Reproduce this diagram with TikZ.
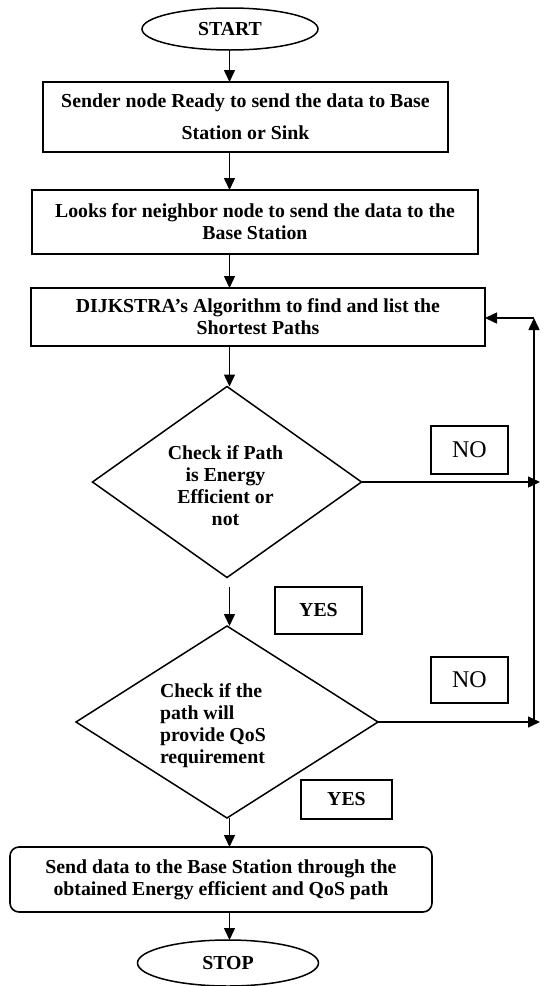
\documentclass[tikz,border=0pt]{standalone}
\usepackage{fontspec}
\setmainfont{Liberation Serif}
\usetikzlibrary{shapes.geometric,arrows.meta,calc}
\begin{document}
\begin{tikzpicture}[x=1pt,y=-1pt,
  every node/.style={inner sep=0pt, outer sep=0pt},
  bf/.style={font=\fontsize{19.8}{22}\selectfont\bfseries},
  procbox/.style={draw, line width=1.6pt, align=center, bf},
  term/.style={draw, ellipse, line width=1.5pt, bf},
  decide/.style={draw, diamond, line width=1.5pt},
  lbl/.style={draw, line width=1.6pt},
  conn/.style={line width=1.5pt, -{Triangle[length=12pt,width=11pt]}},
  plain/.style={line width=1.5pt}
]
\useasboundingbox (0,0) rectangle (544,986);

\node[term, minimum width=176, minimum height=42] (start) at (230,29) {START};
\node[procbox, minimum width=405, minimum height=70] (b1) at (245.5,117)
  {Sender node Ready to send the data to Base\\[10pt]Station or Sink};
\node[procbox, minimum width=446, minimum height=64] (b2) at (255,222)
  {Looks for neighbor node to send the data to the\\Base Station};
\node[procbox, minimum width=454, minimum height=58] (b3) at (258,317)
  {DIJKSTRA’s Algorithm to find and list the\\Shortest Paths};
\node[decide, minimum width=269, minimum height=191] (d1) at (227,482) {};
\node[align=center, bf] (d1t) at (225.5,486)
  {Check if Path\\is Energy\\Efficient or\\not};
\node[decide, minimum width=302, minimum height=192] (d2) at (227,722) {};
\node[align=left, bf, anchor=west] (d2t) at (160,726)
  {Check if the\\path will\\provide QoS\\requirement};
\node[procbox, rounded corners=9pt, minimum width=422, minimum height=65] (b4) at (221,879.5)
  {Send data to the Base Station through the\\obtained Energy efficient and QoS path};
\node[term, minimum width=181, minimum height=46] (stop) at (228,963) {STOP};

\node[lbl, minimum width=77, minimum height=48, font=\fontsize{24}{26}\selectfont] (no1) at (469.5,450) {NO};
\node[lbl, minimum width=77, minimum height=46, font=\fontsize{24}{26}\selectfont] (no2) at (469.5,680) {NO};
\node[lbl, bf, minimum width=87, minimum height=47] (yes1) at (318.5,610.5) {YES};
\node[lbl, bf, minimum width=91, minimum height=39] (yes2) at (346.5,799.5) {YES};

\coordinate (ax) at (229.5,0);
\coordinate (vx) at (534,0);
\coordinate (tx) at (540,0);
\coordinate (vb) at (534,716);
\coordinate (vt) at (534,318);

\draw[conn] (ax |- start.south) -- (ax |- b1.north);
\draw[conn] (ax |- b1.south) -- (ax |- b2.north);
\draw[conn] (ax |- b2.south) -- (ax |- b3.north);
\draw[conn] (ax |- b3.south) -- (ax |- d1.north);
\draw[conn] ($(ax |- d1.south)+(0,9)$) -- (ax |- d2.north);
\draw[conn] (ax |- d2.south) -- (ax |- b4.north);
\draw[conn] (ax |- b4.south) -- (ax |- stop.north);

\draw[conn] (d1.east) -- (tx |- d1.east);
\draw[conn] (d2.east) -- (tx |- d2.east);
\draw[plain] (vx |- d2.east) -- (vb);
\draw[conn] (vb) -- (vt);
\draw[conn] (vt) -- (vt -| b3.east);
\end{tikzpicture}
\end{document}
